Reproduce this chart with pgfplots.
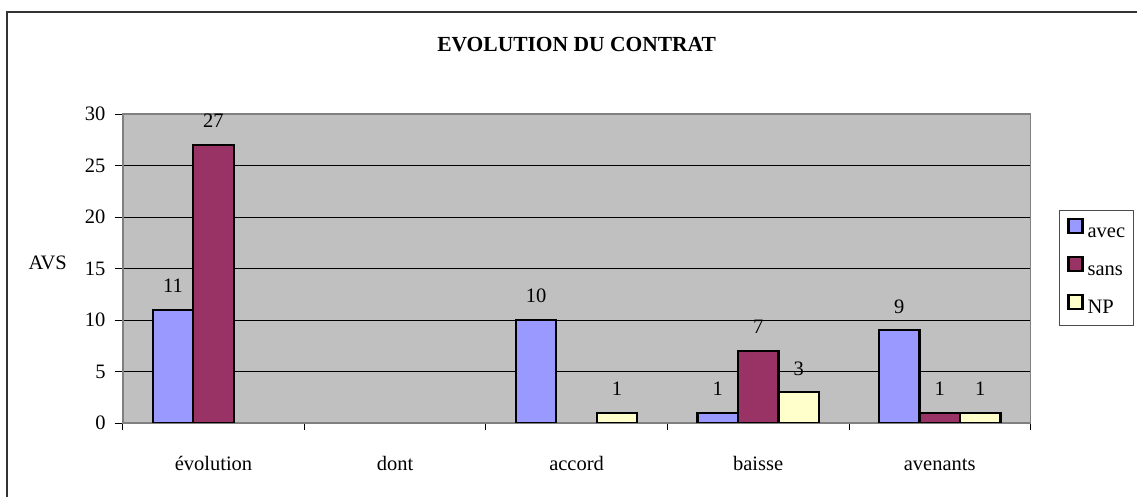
\documentclass[border=0pt]{standalone}
\usepackage{pgfplots}
\pgfplotsset{compat=1.18}
\usepackage{fontspec}
\setmainfont{Liberation Serif}
\definecolor{cavec}{HTML}{9999FF}
\definecolor{csans}{HTML}{993366}
\definecolor{cnp}{HTML}{FFFFCC}
\definecolor{bgray}{HTML}{C0C0C0}
\definecolor{bord}{HTML}{808080}
\newcommand{\lbl}{\fontsize{20.5}{24}\selectfont}
\begin{document}
\begin{tikzpicture}[x=1pt,y=1pt]
\path[use as bounding box] (0,0) rectangle (1137,497);
\draw[black!80, line width=1.5pt] (7,-20) -- (7,485) -- (1160,485);
\begin{axis}[
  at={(122.7pt,74pt)}, anchor=south west,
  scale only axis, width=907.8pt, height=309pt,
  xmin=-0.5, xmax=4.5, ymin=0, ymax=30,
  enlarge x limits=false, enlarge y limits=false,
  ybar=0pt, bar width=0.223,
  xtick={0,1,2,3,4},
  xticklabels={évolution,dont,accord,baisse,avenants},
  minor xtick={-0.5,0.5,1.5,2.5,3.5,4.5},
  ytick={0,5,10,15,20,25,30},
  xtick pos=bottom, ytick pos=left,
  tick align=outside,
  major tick length=8pt, minor tick length=7pt,
  xtick style={draw=none},
  minor x tick style={draw=black, line width=0.8pt},
  y tick style={black, line width=0.8pt},
  axis background/.style={fill=bgray},
  axis line style={draw=bord, line width=1.8pt},
  ymajorgrids, major grid style={black, line width=0.8pt},
  /pgf/number format/assume math mode=true,
  ticklabel style={font=\lbl},
  xticklabel style={anchor=north, inner sep=0pt, text height=14pt, yshift=-25pt},
  yticklabel style={anchor=east, inner sep=0pt, xshift=-9pt},
  title={EVOLUTION DU CONTRAT},
  title style={font=\bfseries\fontsize{21.5}{26}\selectfont, anchor=center, at={(axis description cs:0.5,1)}, yshift=63pt},
  ylabel={AVS},
  ylabel style={font=\lbl, at={(axis description cs:0,0.518)}, anchor=center, rotate=-90, xshift=-75pt},
  nodes near coords,
  every node near coord/.append style={font=\lbl, anchor=base, inner sep=0pt, yshift=17pt, black},
  legend style={at={(axis description cs:1,0.689)}, anchor=north west, xshift=28.5pt,
    draw=black!70, line width=0.8pt, fill=white, inner xsep=8pt, inner ysep=7.5pt,
    nodes={inner sep=0pt, text height=15pt, text depth=5pt, font=\lbl},
    row sep=14pt, column sep=4pt},
  legend cell align=left,
  legend image code/.code={\draw[#1, draw=black, line width=2.2pt] (0pt,-1pt) rectangle (14pt,13pt);},
]
\addplot[fill=cavec, draw=black, line width=2.2pt, bar shift=-0.223] coordinates {(0,11) (2,10) (3,1) (4,9)};
\addplot[fill=csans, draw=black, line width=2.2pt, bar shift=0] coordinates {(0,27) (3,7) (4,1)};
\addplot[fill=cnp, draw=black, line width=2.2pt, bar shift=0.223] coordinates {(2,1) (3,3) (4,1)};
\legend{avec,sans,NP}
\end{axis}
\end{tikzpicture}
\end{document}
